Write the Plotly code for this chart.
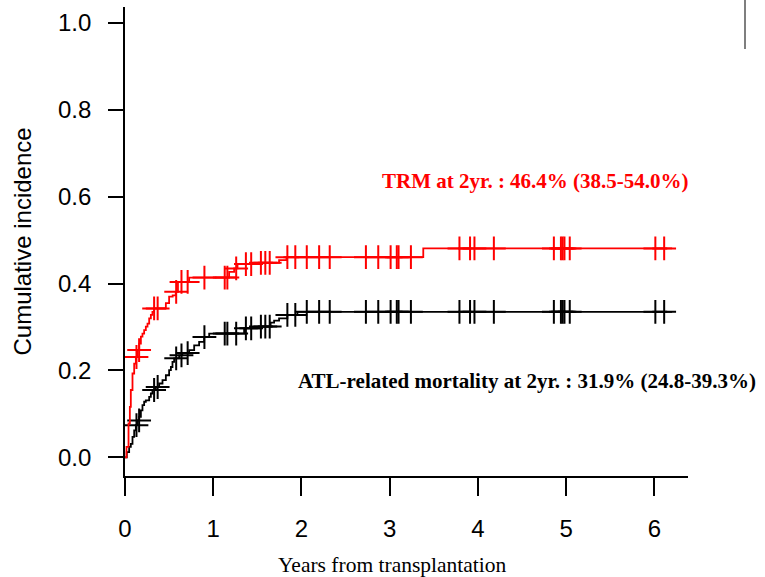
import numpy as np
import plotly.graph_objects as go

# ---- data ----
trm_times = [0.0, 0.017, 0.04, 0.055, 0.066, 0.085, 0.104, 0.123, 0.142, 0.161, 0.18,
             0.198, 0.217, 0.236, 0.255, 0.274, 0.293, 0.311, 0.33, 0.463, 0.50, 0.54,
             0.575, 0.60, 0.727, 1.18, 1.237, 1.275, 1.50, 1.746, 1.83, 3.38, 6.2]
trm_values = [0.0, 0.024, 0.078, 0.116, 0.155, 0.193, 0.216, 0.231, 0.247, 0.262, 0.278,
              0.285, 0.293, 0.301, 0.308, 0.320, 0.328, 0.335, 0.343, 0.355, 0.370, 0.373,
              0.381, 0.404, 0.414, 0.427, 0.435, 0.445, 0.448, 0.454, 0.461, 0.481, 0.481]

atl_times = [0.0, 0.02, 0.047, 0.066, 0.085, 0.104, 0.123, 0.142, 0.161, 0.18, 0.198,
             0.217, 0.236, 0.274, 0.293, 0.311, 0.349, 0.387, 0.425, 0.463, 0.50, 0.52,
             0.538, 0.557, 0.614, 0.65, 0.727, 0.784, 0.84, 0.897, 0.954, 1.35, 1.54,
             1.65, 1.69, 1.746, 1.84, 1.954, 6.2]
atl_values = [0.0, 0.012, 0.024, 0.031, 0.047, 0.062, 0.074, 0.085, 0.093, 0.108, 0.120,
              0.128, 0.131, 0.139, 0.147, 0.155, 0.162, 0.170, 0.178, 0.189, 0.201, 0.208,
              0.220, 0.228, 0.235, 0.240, 0.247, 0.258, 0.266, 0.277, 0.285, 0.297, 0.301,
              0.310, 0.315, 0.320, 0.328, 0.335, 0.335]

censor_times = [0.13, 0.16, 0.33, 0.37, 0.58, 0.64, 0.71, 0.90, 1.13, 1.16, 1.26, 1.37,
                1.43, 1.54, 1.59, 1.64, 1.84, 1.93, 2.06, 2.20, 2.32, 2.73, 2.87, 3.01,
                3.08, 3.10, 3.24, 3.79, 3.91, 3.96, 4.18, 4.86, 4.94, 4.96, 4.98, 5.04,
                6.01, 6.11]

x_ticks = [0, 1, 2, 3, 4, 5, 6]
y_ticks = [0.0, 0.2, 0.4, 0.6, 0.8, 1.0]

trm_label = "TRM at 2yr. : 46.4% (38.5-54.0%)"
atl_label = "ATL-related mortality at 2yr. : 31.9% (24.8-39.3%)"
x_title = "Years from transplantation"
y_title = "Cumulative incidence"


def step_at(times, values, t):
    times = np.asarray(times)
    values = np.asarray(values)
    idx = np.searchsorted(times, t, side="right") - 1
    return values[idx]


RED = "#ff0000"
BLACK = "#000000"
LW = 1.8

fig = go.Figure()

for times, values, color in [(atl_times, atl_values, BLACK), (trm_times, trm_values, RED)]:
    fig.add_trace(go.Scatter(
        x=times, y=values, mode="lines",
        line=dict(shape="hv", color=color, width=LW),
        showlegend=False, hoverinfo="skip"))
    fig.add_trace(go.Scatter(
        x=censor_times, y=step_at(times, values, censor_times), mode="markers",
        marker=dict(symbol="cross-thin", size=17, color=color,
                    line=dict(color=color, width=2)),
        showlegend=False, hoverinfo="skip"))

SANS = "Liberation Sans, Arial, sans-serif"
SERIF = "Liberation Serif, Times New Roman, serif"

fig.add_annotation(x=4.655, y=0.636, xref="x", yref="y", text="<b>" + trm_label + "</b>",
                   showarrow=False, font=dict(family=SERIF, size=21, color=RED),
                   xanchor="center", yanchor="middle")
fig.add_annotation(x=4.553, y=0.175, xref="x", yref="y", text="<b>" + atl_label + "</b>",
                   showarrow=False, font=dict(family=SERIF, size=21, color=BLACK),
                   xanchor="center", yanchor="middle")
fig.add_annotation(x=(392 - 125) / 563, y=(476 - 565) / 469, xref="paper", yref="paper",
                   text=x_title, showarrow=False,
                   font=dict(family=SERIF, size=21.5, color=BLACK),
                   xanchor="center", yanchor="middle")
fig.add_annotation(x=(22 - 125) / 563, y=0.5, xref="paper", yref="paper",
                   text=y_title, textangle=-90, showarrow=False,
                   font=dict(family=SANS, size=24, color=BLACK),
                   xanchor="center", yanchor="middle")

# stray vertical rule at the top right of the reference
fig.add_shape(type="line", xref="paper", yref="paper",
              x0=(745 - 125) / 563, x1=(745 - 125) / 563,
              y0=(476 - 49) / 469, y1=(476 + 2) / 469,
              line=dict(color="#7f7f7f", width=2))

fig.update_layout(
    width=765, height=577,
    margin=dict(l=125, r=77, t=7, b=101, autoexpand=False),
    paper_bgcolor="white", plot_bgcolor="white",
    xaxis=dict(range=[0, 6.38], showgrid=False, zeroline=False,
               showline=True, linecolor=BLACK, linewidth=1.6,
               ticks="outside", ticklen=18, tickwidth=1.6, tickcolor=BLACK,
               tickvals=x_ticks, ticktext=[str(v) for v in x_ticks],
               tickfont=dict(family=SANS, size=24, color=BLACK),
               ticklabelstandoff=12),
    yaxis=dict(range=[-0.043, 1.037], showgrid=False, zeroline=False,
               showline=True, linecolor=BLACK, linewidth=1.6,
               ticks="outside", ticklen=15, tickwidth=1.6, tickcolor=BLACK,
               tickvals=y_ticks, ticktext=[f"{v:.1f}" for v in y_ticks],
               tickfont=dict(family=SANS, size=24, color=BLACK),
               ticklabelstandoff=12),
)

fig.write_html("out.html")
